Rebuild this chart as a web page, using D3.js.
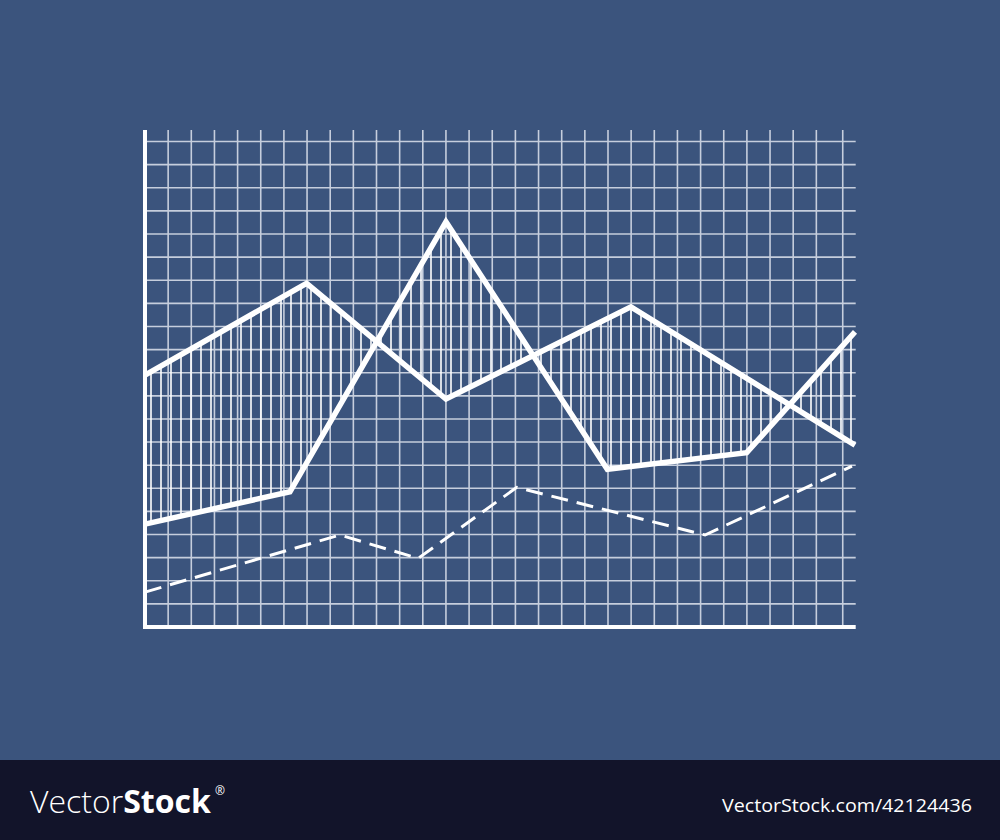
<!DOCTYPE html>
<html>
<head>
<meta charset="utf-8">
<script src="https://cdn.jsdelivr.net/npm/d3@7"></script>
<style>
  html, body { margin: 0; padding: 0; background: #3b547d; }
  svg { display: block; }
</style>
</head>
<body>
<svg id="chart" width="1000" height="840"></svg>
<script>
// ---- data (grid units) ----
const seriesA_x = [0, 6.98, 13.0, 20.99, 30.67];
const seriesA_y = [10.9, 14.87, 9.86, 13.85, 7.87];

const seriesB_x = [0, 6.26, 13.0, 19.97, 25.99, 30.67];
const seriesB_y = [4.45, 5.85, 17.53, 6.82, 7.54, 12.77];

const dashed_x = [0, 8.42, 11.8, 16.06, 24.19, 30.54];
const dashed_y = [1.51, 3.98, 2.97, 6.04, 3.98, 6.96];

const xGridTicks = [1,2,3,4,5,6,7,8,9,10,11,12,13,14,15,16,17,18,19,20,21,22,23,24,25,26,27,28,29,30.14];
const yGridTicks = [1,2,3,4,5,6,7,8,9,10,11,12,13,14,15,16,17,18,19,20,21];

// ---- layout ----
const svg = d3.select("#chart");
const x = d3.scaleLinear().domain([0, 30.7]).range([145, 855.7]);
const y = d3.scaleLinear().domain([0, 21.5]).range([627, 130]);

svg.append("rect").attr("x", 0).attr("y", 0).attr("width", 1000).attr("height", 760).attr("fill", "#3b547d");
svg.append("rect").attr("x", 0).attr("y", 760).attr("width", 1000).attr("height", 80).attr("fill", "#12142a");

const gridColor = "#c6cedd";
// grid
const g = svg.append("g");
g.selectAll("line.v").data(xGridTicks).join("line")
  .attr("x1", d => x(d)).attr("x2", d => x(d))
  .attr("y1", y(21.5)).attr("y2", y(0))
  .attr("stroke", gridColor).attr("stroke-width", 1.6);
g.selectAll("line.h").data(yGridTicks).join("line")
  .attr("x1", x(0)).attr("x2", x(30.7))
  .attr("y1", d => y(d)).attr("y2", d => y(d))
  .attr("stroke", gridColor).attr("stroke-width", 1.6);

// hatch between A and B
const A = seriesA_x.map((v, i) => [v, seriesA_y[i]]);
const B = seriesB_x.map((v, i) => [v, seriesB_y[i]]);
function interp(pts, xv) {
  for (let i = 0; i < pts.length - 1; i++) {
    const [x0, y0] = pts[i], [x1, y1] = pts[i + 1];
    if (xv >= x0 && xv <= x1) return y0 + (y1 - y0) * (xv - x0) / (x1 - x0);
  }
  return pts[pts.length - 1][1];
}
const hatchX = d3.range(x.invert(151), 30.6, 10 / 23.15);
g.selectAll("line.hatch").data(hatchX).join("line")
  .attr("x1", d => x(d)).attr("x2", d => x(d))
  .attr("y1", d => y(interp(A, d))).attr("y2", d => y(interp(B, d)))
  .attr("stroke", "#ffffff").attr("stroke-width", 1.6);

const line = d3.line().x(d => x(d[0])).y(d => y(d[1]));
const D = dashed_x.map((v, i) => [v, dashed_y[i]]);

svg.append("path").datum(D).attr("d", line)
  .attr("fill", "none").attr("stroke", "#ffffff").attr("stroke-width", 3)
  .attr("stroke-dasharray", "17,9");

[A, B].forEach(s => {
  svg.append("path").datum(s).attr("d", line)
    .attr("fill", "none").attr("stroke", "#ffffff").attr("stroke-width", 5.5)
    .attr("stroke-linejoin", "miter");
});

// axes
svg.append("line").attr("x1", x(0)).attr("x2", x(0)).attr("y1", 130).attr("y2", 629)
  .attr("stroke", "#ffffff").attr("stroke-width", 4);
svg.append("line").attr("x1", 143).attr("x2", x(30.7)).attr("y1", y(0)).attr("y2", y(0))
  .attr("stroke", "#ffffff").attr("stroke-width", 4);

// watermark
const wm = svg.append("text").attr("x", 30).attr("y", 813)
  .attr("font-family", "'Open Sans', 'DejaVu Sans', sans-serif").attr("font-size", 32)
  .attr("fill", "#ffffff");
wm.append("tspan").attr("font-weight", 300).text("Vector");
wm.append("tspan").attr("font-weight", 700).text("Stock");
svg.append("text").attr("x", 215).attr("y", 795)
  .attr("font-family", "'Open Sans', sans-serif").attr("font-size", 12).attr("fill", "#ffffff").text("®");
svg.append("text").attr("x", 972).attr("y", 812).attr("text-anchor", "end")
  .attr("font-family", "'Open Sans', sans-serif").attr("font-size", 19).attr("fill", "#ffffff")
  .attr("textLength", 250).attr("lengthAdjust", "spacingAndGlyphs")
  .text("VectorStock.com/42124436");
</script>
</body>
</html>
